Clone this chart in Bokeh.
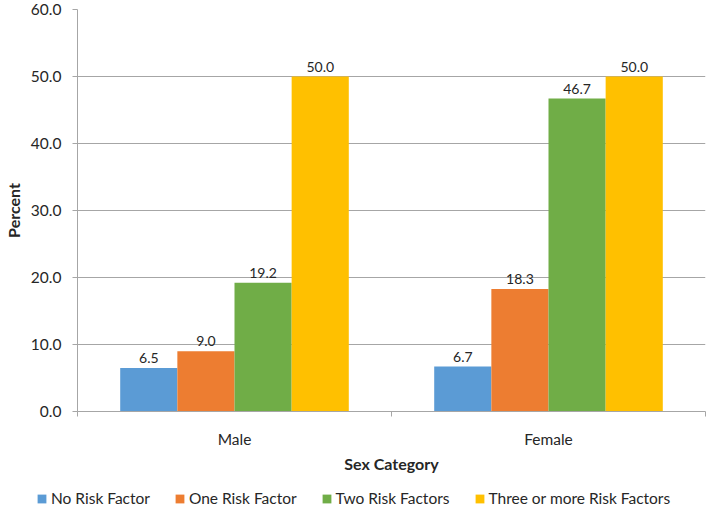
from bokeh.plotting import figure
from bokeh.models import ColumnDataSource, FixedTicker, Range1d, Legend, LegendItem
from bokeh.layouts import column, row
from bokeh.embed import file_html
from bokeh.resources import INLINE
from bokeh.core.properties import value

categories = ["Male", "Female"]
series = ["No Risk Factor", "One Risk Factor", "Two Risk Factors", "Three or more Risk Factors"]
no_risk = [6.5, 6.7]
one_risk = [9.0, 18.3]
two_risk = [19.2, 46.7]
three_plus = [50.0, 50.0]
colors = ["#5B9BD5", "#ED7D31", "#70AD47", "#FFC000"]
y_ticks = [0, 10, 20, 30, 40, 50, 60]

FONT = "Lato"
values_by_series = [no_risk, one_risk, two_risk, three_plus]

p = figure(width=708, height=478, output_backend="svg", toolbar_location=None,
           x_range=Range1d(0, len(categories)), y_range=Range1d(0, 60),
           min_border_left=77, min_border_right=3, min_border_top=9, min_border_bottom=67)

bar_w = 0.182
for j, (name, vals, col) in enumerate(zip(series, values_by_series, colors)):
    xs = [i + 0.5 + (j - 1.5) * bar_w for i in range(len(categories))]
    src = ColumnDataSource(dict(x=xs, top=vals, lab=["%.1f" % v for v in vals]))
    p.vbar(x="x", top="top", width=bar_w, bottom=0, source=src, color=col, line_color=None)
    p.text(x="x", y="top", text="lab", source=src, text_align="center", text_baseline="bottom",
           y_offset=-5, text_font=value(FONT), text_font_size="14px", text_color="#262626")

p.outline_line_color = None
p.xgrid.grid_line_color = None
p.ygrid.grid_line_color = "#A6A6A6"
p.ygrid.ticker = FixedTicker(ticks=y_ticks)

p.yaxis.ticker = FixedTicker(ticks=y_ticks)
p.yaxis.major_label_overrides = {t: "%.1f" % t for t in y_ticks}
p.yaxis.axis_line_color = "#A6A6A6"
p.yaxis.major_tick_line_color = "#A6A6A6"
p.yaxis.major_tick_out = 5
p.yaxis.major_tick_in = 0
p.yaxis.minor_tick_line_color = None
p.yaxis.major_label_standoff = 11
p.yaxis.axis_label = "Percent"
p.yaxis.axis_label_standoff = 5

xt = [i + 0.5 for i in range(len(categories))]
p.xaxis.ticker = FixedTicker(ticks=xt, minor_ticks=list(range(len(categories) + 1)))
p.xaxis.major_label_overrides = {t: c for t, c in zip(xt, categories)}
p.xaxis.axis_line_color = "#A6A6A6"
p.xaxis.major_tick_line_color = None
p.xaxis.minor_tick_line_color = "#A6A6A6"
p.xaxis.minor_tick_out = 5
p.xaxis.minor_tick_in = 0
p.xaxis.major_label_standoff = 12
p.xaxis.axis_label = "Sex Category"
p.xaxis.axis_label_standoff = 3

for ax in (p.xaxis[0], p.yaxis[0]):
    ax.major_label_text_font = FONT
    ax.major_label_text_font_size = "15.5px"
    ax.major_label_text_color = "#262626"
    ax.axis_label_text_font = FONT
    ax.axis_label_text_font_size = "16px"
    ax.axis_label_text_font_style = "bold"
    ax.axis_label_text_color = "#262626"

# legend strip
lg = figure(width=708, height=31, output_backend="svg", toolbar_location=None,
            x_range=Range1d(0, 1), y_range=Range1d(0, 1),
            x_axis_location=None, y_axis_location=None,
            min_border_left=0, min_border_right=0, min_border_top=0, min_border_bottom=0)
lg.outline_line_color = None
lg.grid.visible = False
items = []
for name, col in zip(series, colors):
    r = lg.vbar(x=[0.5], top=[0], bottom=[0], width=0.0, color=col, line_color=None)
    items.append(LegendItem(label=name, renderers=[r]))
legend = Legend(items=items, orientation="horizontal", location=(36, 2),
                glyph_width=11, glyph_height=11, label_standoff=4, spacing=24,
                label_text_font=FONT, label_text_font_size="15.5px", label_text_color="#262626",
                border_line_color=None, background_fill_alpha=0, margin=0, padding=0)
lg.add_layout(legend, "center")

open("out.html", "w").write(file_html(column(p, row(lg), spacing=0), INLINE))
